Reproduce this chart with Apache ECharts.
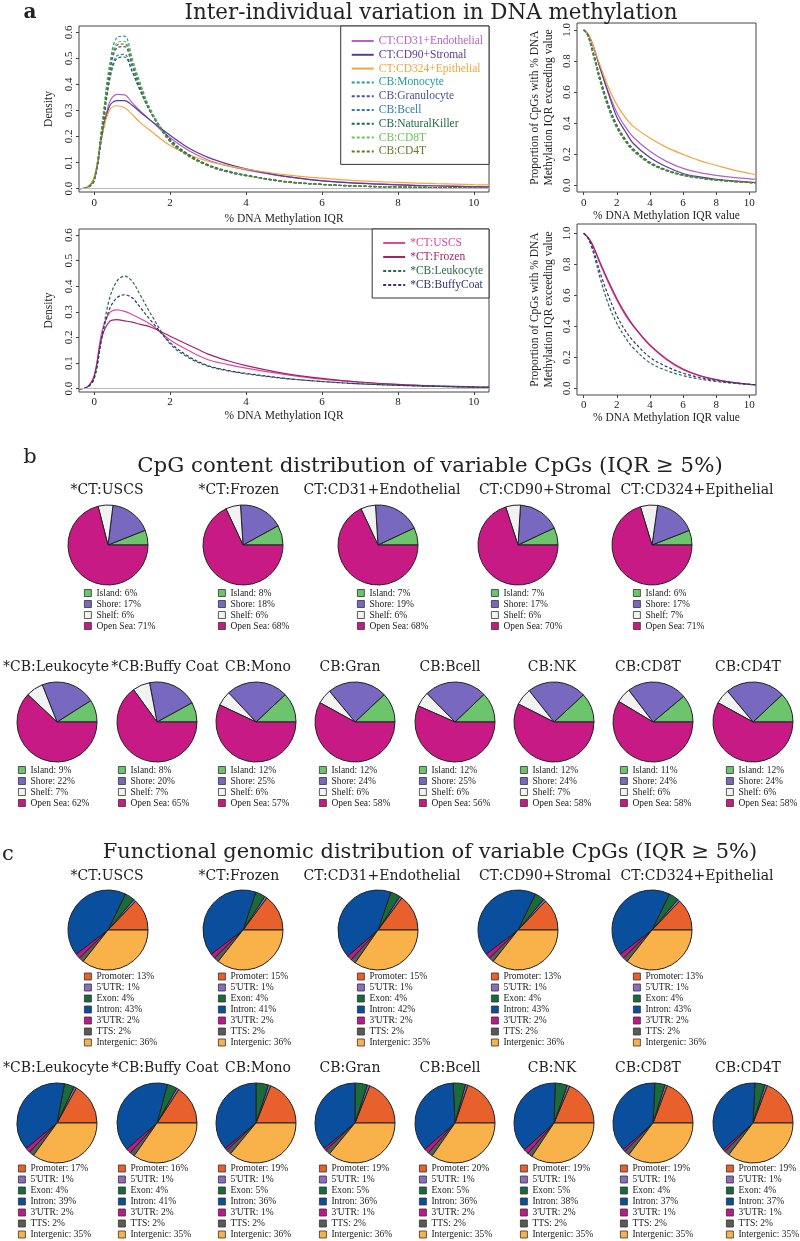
<!DOCTYPE html>
<html><head><meta charset="utf-8">
<script src="https://cdn.jsdelivr.net/npm/echarts@6/dist/echarts.min.js"></script>
<style>html,body{margin:0;padding:0;background:#fff}#c{width:800px;height:1241px}</style>
</head><body><div id="c"></div>
<script>
// ---------------- DATA ----------------
// Panel a: density of % DNA methylation IQR
const densX = [-0.4,-0.2,0,0.2,0.4,0.6,0.8,1.0,1.2,1.5,2,2.5,3,3.5,4,5,6,7,8,9,10,10.4];
const densTopNames = ['CT:CD31+Endothelial','CT:CD90+Stromal','CT:CD324+Epithelial','CB:Monocyte','CB:Granulocyte','CB:Bcell','CB:NaturalKiller','CB:CD8T','CB:CD4T'];
const densCD31  = [0,0.004,0.04,0.2,0.33,0.362,0.36,0.33,0.3,0.26,0.195,0.145,0.11,0.088,0.072,0.047,0.031,0.021,0.015,0.011,0.008,0.007];
const densCD90  = [0,0.004,0.04,0.2,0.315,0.338,0.338,0.32,0.295,0.26,0.205,0.155,0.12,0.095,0.076,0.048,0.03,0.02,0.014,0.01,0.007,0.006];
const densCD324 = [0,0.005,0.045,0.2,0.3,0.318,0.31,0.285,0.255,0.22,0.165,0.13,0.105,0.088,0.075,0.054,0.04,0.03,0.024,0.019,0.015,0.014];
const densMono  = [0,0.003,0.035,0.24,0.47,0.58,0.585,0.5,0.41,0.3,0.185,0.125,0.09,0.066,0.05,0.027,0.016,0.009,0.006,0.004,0.003,0.002];
const densGran  = [0,0.003,0.033,0.22,0.44,0.54,0.545,0.47,0.39,0.29,0.18,0.125,0.088,0.065,0.05,0.027,0.016,0.009,0.006,0.004,0.003,0.002];
const densBcell = [0,0.003,0.03,0.21,0.42,0.51,0.515,0.45,0.38,0.29,0.185,0.128,0.09,0.067,0.051,0.028,0.016,0.01,0.006,0.004,0.003,0.002];
const densNK    = [0,0.003,0.03,0.2,0.41,0.5,0.505,0.45,0.38,0.29,0.19,0.13,0.092,0.068,0.052,0.028,0.016,0.01,0.006,0.004,0.003,0.002];
const densCD8T  = [0,0.003,0.034,0.23,0.46,0.56,0.565,0.49,0.4,0.295,0.18,0.123,0.087,0.064,0.049,0.026,0.015,0.009,0.006,0.004,0.003,0.002];
const densCD4T  = [0,0.003,0.033,0.225,0.45,0.55,0.555,0.48,0.395,0.29,0.18,0.124,0.088,0.065,0.05,0.027,0.016,0.009,0.006,0.004,0.003,0.002];

const densBotNames = ['*CT:USCS','*CT:Frozen','*CB:Leukocyte','*CB:BuffyCoat'];
const densUSCS   = [0,0.005,0.05,0.22,0.295,0.308,0.302,0.29,0.275,0.25,0.19,0.148,0.113,0.095,0.08,0.056,0.037,0.025,0.016,0.01,0.006,0.005];
const densFrozen = [0,0.005,0.05,0.2,0.262,0.27,0.265,0.26,0.252,0.24,0.205,0.17,0.135,0.11,0.09,0.06,0.04,0.026,0.017,0.011,0.007,0.006];
const densLeuko  = [0,0.004,0.04,0.2,0.35,0.42,0.44,0.42,0.37,0.29,0.175,0.12,0.088,0.07,0.058,0.04,0.028,0.019,0.013,0.009,0.006,0.005];
const densBuffy  = [0,0.004,0.04,0.2,0.31,0.355,0.367,0.355,0.32,0.265,0.18,0.125,0.09,0.072,0.06,0.041,0.028,0.019,0.013,0.009,0.006,0.005];

// Proportion of CpGs exceeding IQR value
const survX = [0,0.25,0.5,0.75,1,1.5,2,2.5,3,4,5,6,7,8,9,10,10.4];
const survCD31  = [1,0.975,0.92,0.84,0.76,0.6,0.47,0.38,0.31,0.22,0.155,0.11,0.083,0.065,0.052,0.043,0.04];
const survCD90  = [1,0.975,0.92,0.84,0.75,0.59,0.44,0.35,0.27,0.18,0.12,0.077,0.055,0.04,0.029,0.021,0.019];
const survCD324 = [1,0.975,0.92,0.845,0.77,0.63,0.52,0.44,0.38,0.305,0.245,0.2,0.16,0.13,0.1,0.077,0.07];
const survMono  = [1,0.965,0.87,0.77,0.665,0.495,0.37,0.285,0.222,0.14,0.094,0.065,0.047,0.034,0.025,0.018,0.016];
const survGran  = [1,0.966,0.875,0.775,0.67,0.5,0.375,0.29,0.226,0.143,0.096,0.066,0.048,0.035,0.026,0.019,0.017];
const survBcell = [1,0.97,0.885,0.79,0.685,0.515,0.385,0.297,0.232,0.147,0.099,0.068,0.049,0.036,0.027,0.02,0.018];
const survNK    = [1,0.97,0.887,0.792,0.69,0.52,0.39,0.3,0.235,0.15,0.1,0.069,0.05,0.037,0.027,0.02,0.018];
const survCD8T  = [1,0.966,0.872,0.772,0.667,0.497,0.372,0.287,0.224,0.141,0.095,0.065,0.047,0.034,0.025,0.018,0.016];
const survCD4T  = [1,0.967,0.876,0.777,0.672,0.502,0.376,0.29,0.227,0.143,0.096,0.066,0.048,0.035,0.026,0.019,0.017];
const survUSCS   = [1,0.975,0.93,0.87,0.8,0.68,0.57,0.475,0.4,0.275,0.185,0.12,0.08,0.054,0.037,0.026,0.023];
const survFrozen = [1,0.975,0.935,0.875,0.81,0.69,0.58,0.485,0.405,0.28,0.19,0.125,0.083,0.056,0.038,0.026,0.023];
const survLeuko  = [1,0.97,0.905,0.81,0.71,0.54,0.42,0.33,0.26,0.165,0.115,0.082,0.06,0.044,0.033,0.025,0.023];
const survBuffy  = [1,0.972,0.915,0.835,0.745,0.595,0.47,0.375,0.305,0.2,0.14,0.098,0.07,0.05,0.036,0.026,0.023];

const xTicks = [0,2,4,6,8,10];
const densTicks = [0,0.1,0.2,0.3,0.4,0.5,0.6];
const survTicks = [0,0.2,0.4,0.6,0.8,1.0];

// Panel b: CpG content
const samplesRow1 = ['*CT:USCS','*CT:Frozen','CT:CD31+Endothelial','CT:CD90+Stromal','CT:CD324+Epithelial'];
const samplesRow2 = ['*CB:Leukocyte','*CB:Buffy Coat','CB:Mono','CB:Gran','CB:Bcell','CB:NK','CB:CD8T','CB:CD4T'];
const cpgCats = ['Island','Shore','Shelf','Open Sea'];
const cpgIsland  = [6,8,7,7,6, 9,8,12,12,12,12,11,12];
const cpgShore   = [17,18,19,17,17, 22,20,25,24,25,24,24,24];
const cpgShelf   = [6,6,6,6,7, 7,7,6,6,6,7,6,6];
const cpgOpenSea = [71,68,68,70,71, 62,65,57,58,56,58,58,58];

// Panel c: functional genomic distribution
const funcCats = ['Promoter',"5'UTR",'Exon','Intron',"3'UTR",'TTS','Intergenic'];
const fPromoter   = [13,15,15,13,13, 17,16,19,19,20,19,19,19];
const fUTR5       = [1,1,1,1,1, 1,1,1,1,1,1,1,1];
const fExon       = [4,4,4,4,4, 4,4,5,5,5,5,4,4];
const fIntron     = [43,41,42,43,43, 39,41,36,36,36,38,37,37];
const fUTR3       = [2,2,2,2,2, 2,2,1,1,2,2,1,1];
const fTTS        = [2,2,2,2,2, 2,2,2,2,2,2,2,2];
const fIntergenic = [36,36,35,36,36, 35,35,36,36,35,35,35,35];

// ---------------- STYLE / LAYOUT ----------------
const SERIF = 'Liberation Serif';
const CM = 'DejaVu Serif';
const topStyles = {
  'CT:CD31+Endothelial': ['#b462c6', false],
  'CT:CD90+Stromal': ['#5a3d96', false],
  'CT:CD324+Epithelial': ['#f2a63c', false],
  'CB:Monocyte': ['#1f9c9c', true],
  'CB:Granulocyte': ['#4b4fa6', true],
  'CB:Bcell': ['#2e7db0', true],
  'CB:NaturalKiller': ['#1e6a45', true],
  'CB:CD8T': ['#6cc45a', true],
  'CB:CD4T': ['#66772a', true]
};
const botStyles = {
  '*CT:USCS': ['#e0479e', false],
  '*CT:Frozen': ['#a3236b', false],
  '*CB:Leukocyte': ['#2a6a4a', true],
  '*CB:BuffyCoat': ['#2e3578', true]
};
const cpgColors = ['#6cc46c','#7868c0','#f2f2f2','#c71a85'];
const funcColors = ['#e8602c','#8a6cc0','#1b6b3a','#0a4f9e','#c0178a','#5a5a5a','#f9b24a'];

const row1PieX = [108,243,378,518,652];
const row2PieX = [57,157,256,355,455,554,653,753];
const row1TitleX = [107,239,382,545,697];
const row2TitleX = [56,165,258,350,450,552,648,748];
const row1LegX = [84,218,357,491,633];
const row2LegX = [18,118,218,319,419,520,620,726];

const pair = (xs, ys) => xs.map((x, i) => [x, ys[i]]);

// ---------------- AXES ----------------
const axisFont = {fontFamily: SERIF, fontSize: 11, color: '#222'};
const nameFont = {fontFamily: SERIF, fontSize: 11.5, color: '#222'};
function xAx(gi, name, gap, margin) {
  return {type:'value', gridIndex:gi, min:-0.4, max:10.4, name, nameLocation:'middle', nameGap:gap,
    nameTextStyle:nameFont, splitLine:{show:false}, axisLine:{show:false, onZero:false},
    axisTick:{show:true, length:3, customValues:xTicks, lineStyle:{color:'#444'}},
    axisLabel:{margin, customValues:xTicks, ...axisFont}};
}
function yAx(gi, min, max, ticks, name, gap) {
  return {type:'value', gridIndex:gi, min, max, name, nameLocation:'middle', nameGap:gap, nameRotate:90,
    nameTextStyle:{...nameFont, lineHeight:14}, splitLine:{show:false}, axisLine:{show:false, onZero:false},
    axisTick:{show:true, length:3, customValues:ticks, lineStyle:{color:'#444'}},
    axisLabel:{margin:4, rotate:90, customValues:ticks, formatter:v=>Number(v).toFixed(1), ...axisFont}};
}
const gridBase = {show:true, borderColor:'#444', borderWidth:1, backgroundColor:'transparent'};

// ---------------- SERIES ----------------
const series = [];
function lineSeries(name, data, color, dashed, gi, mark) {
  const s = {type:'line', name, data, xAxisIndex:gi, yAxisIndex:gi, smooth:0.35, symbol:'none', silent:true,
    lineStyle:{color, width:1.2, type: dashed ? [3,2] : 'solid'}, itemStyle:{color}, z: dashed ? 3 : 2};
  if (mark) s.markLine = {silent:true, symbol:'none', label:{show:false}, data:[{yAxis:0}],
    lineStyle:{color:'#bbb', type:'solid', width:1}};
  return s;
}
const densTopVals = [densCD31,densCD90,densCD324,densMono,densGran,densBcell,densNK,densCD8T,densCD4T];
const survTopVals = [survCD31,survCD90,survCD324,survMono,survGran,survBcell,survNK,survCD8T,survCD4T];
densTopNames.forEach((n, i) => {
  const [c, d] = topStyles[n];
  series.push(lineSeries(n, pair(densX, densTopVals[i]), c, d, 0, i === 0));
  series.push(lineSeries(n, pair(survX, survTopVals[i]), c, d, 1, false));
});
const densBotVals = [densUSCS,densFrozen,densLeuko,densBuffy];
const survBotVals = [survUSCS,survFrozen,survLeuko,survBuffy];
densBotNames.forEach((n, i) => {
  const [c, d] = botStyles[n];
  series.push(lineSeries(n, pair(densX, densBotVals[i]), c, d, 2, i === 0));
  series.push(lineSeries(n, pair(survX, survBotVals[i]), c, d, 3, false));
});

const legends = [];
const graphics = [];
function txt(text, x, y, font, weight) {
  graphics.push({type:'text', x, y, silent:true, style:{text, fill:'#222', font:(weight||'normal') + ' ' + font,
    textAlign:'center', textVerticalAlign:'middle', align:'center', verticalAlign:'middle'}});
}
function addPie(cats, colors, values, cx, cy, legX, legTopCenter) {
  series.push({type:'pie', center:[cx, cy], radius:40, startAngle:0, clockwise:false, silent:true,
    label:{show:false}, labelLine:{show:false}, emphasis:{disabled:true},
    itemStyle:{borderColor:'#222', borderWidth:1},
    data: cats.map((c, k) => ({name:c, value:values[k], itemStyle:{color:colors[k]}}))});
  legends.push({left:legX, top:legTopCenter - 5.5, height:100, orient:'vertical', padding:0, itemGap:0,
    itemWidth:7, itemHeight:7, itemTextGap:8, icon:'rect', selectedMode:false, data:cats,
    itemStyle:{borderColor:'#333', borderWidth:0.8},
    formatter: n => n + ': ' + values[cats.indexOf(n)] + '%',
    textStyle:{fontFamily:SERIF, fontSize:9.5, lineHeight:11, color:'#222'}});
}
const cpgVals = i => [cpgIsland[i], cpgShore[i], cpgShelf[i], cpgOpenSea[i]];
const funcVals = i => [fPromoter[i], fUTR5[i], fExon[i], fIntron[i], fUTR3[i], fTTS[i], fIntergenic[i]];

samplesRow1.forEach((s, i) => {
  txt(s, row1TitleX[i], 490, '14px ' + CM);
  addPie(cpgCats, cpgColors, cpgVals(i), row1PieX[i], 545, row1LegX[i], 593);
  txt(s, row1TitleX[i], 876, '14px ' + CM);
  addPie(funcCats, funcColors, funcVals(i), row1PieX[i], 930, row1LegX[i], 976.5);
});
samplesRow2.forEach((s, j) => {
  const i = j + 5;
  txt(s, row2TitleX[j], 667, '14px ' + CM);
  addPie(cpgCats, cpgColors, cpgVals(i), row2PieX[j], 722, row2LegX[j], 770);
  txt(s, row2TitleX[j], 1068, '14px ' + CM);
  addPie(funcCats, funcColors, funcVals(i), row2PieX[j], 1123, row2LegX[j], 1168.5);
});

txt('a', 30, 13, '20px ' + CM, 'bold');
txt('Inter-individual variation in DNA methylation', 431, 13, '21.4px ' + CM);
txt('b', 30, 458, '21px ' + CM);
txt('CpG content distribution of variable CpGs (IQR \u2265 5%)', 430, 466, '21.3px ' + CM);
txt('c', 8, 855, '21px ' + CM);
txt('Functional genomic distribution of variable CpGs (IQR \u2265 5%)', 430, 853, '21px ' + CM);

const noSym = {color:'rgba(0,0,0,0)', borderColor:'rgba(0,0,0,0)', borderWidth:0};
legends.unshift(
  {right:311, top:26, orient:'vertical', padding:[8.5,6,6.5,10], itemGap:0.8, itemWidth:22, itemHeight:10,
   itemTextGap:10, selectedMode:false, borderColor:'#333', borderWidth:1, backgroundColor:'#fff',
   itemStyle:noSym,
   data: densTopNames.map(n => ({name:n, textStyle:{color:topStyles[n][0]}})),
   textStyle:{fontFamily:SERIF, fontSize:11.5, lineHeight:13}},
  {right:311, top:229, orient:'vertical', padding:[7,6,6,10], itemGap:0, itemWidth:22, itemHeight:10,
   itemTextGap:10, selectedMode:false, borderColor:'#333', borderWidth:1, backgroundColor:'#fff',
   itemStyle:noSym,
   data: densBotNames.map(n => ({name:n, textStyle:{color:botStyles[n][0]}})),
   textStyle:{fontFamily:SERIF, fontSize:11.5, lineHeight:14}}
);

const option = {
  animation:false,
  backgroundColor:'#fff',
  grid:[
    {...gridBase, left:79, top:26, width:410, height:166},
    {...gridBase, left:577, top:23, width:179, height:169},
    {...gridBase, left:79, top:229, width:410, height:163},
    {...gridBase, left:577, top:224, width:179, height:171}
  ],
  xAxis:[
    xAx(0, '% DNA Methylation IQR', 21, 6),
    xAx(1, '% DNA Methylation IQR value', 15, 6),
    xAx(2, '% DNA Methylation IQR', 18, 5),
    xAx(3, '% DNA Methylation IQR value', 16, 5)
  ],
  yAxis:[
    yAx(0, -0.013, 0.624, densTicks, 'Density', 20),
    yAx(1, -0.042, 1.045, survTicks, 'Proportion of CpGs with % DNA\nMethylation IQR exceeding value', 21),
    yAx(2, -0.013, 0.624, densTicks, 'Density', 20),
    yAx(3, -0.043, 1.06, survTicks, 'Proportion of CpGs with % DNA\nMethylation IQR exceeding value', 21)
  ],
  legend: legends,
  series,
  graphic: graphics
};
const chart = echarts.init(document.getElementById('c'), null, {renderer:'canvas'});
chart.setOption(option);
</script></body></html>
